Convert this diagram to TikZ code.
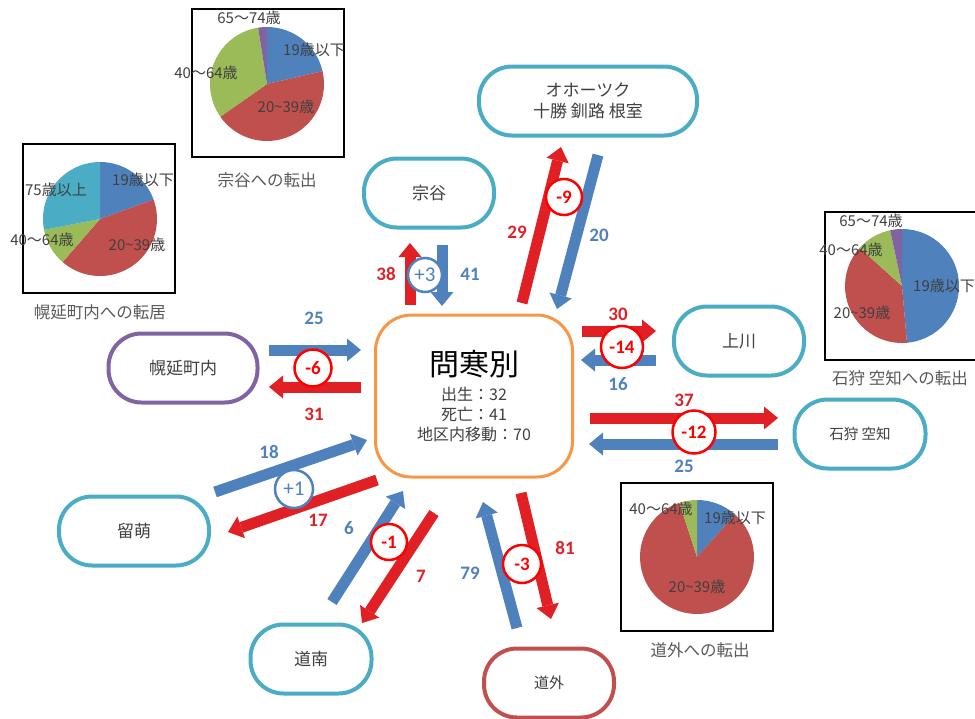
\documentclass[tikz,border=0pt]{standalone}
\usepackage{fontspec}
\setmainfont{Noto Sans CJK JP}
\newfontfamily\numfont{Carlito}
\usetikzlibrary{arrows.meta}
\definecolor{tealc}{HTML}{4BACC6}
\definecolor{orangec}{HTML}{F79646}
\definecolor{purplec}{HTML}{8064A2}
\definecolor{darkredc}{HTML}{C0504D}
\definecolor{arblue}{HTML}{4F81BD}
\definecolor{arred}{HTML}{E02024}
\definecolor{cred}{HTML}{FF0000}
\definecolor{txt}{HTML}{404040}
\definecolor{capt}{HTML}{595959}
\definecolor{pblue}{HTML}{4F81BD}
\definecolor{pred}{HTML}{C0504D}
\definecolor{pgreen}{HTML}{9BBB59}
\definecolor{ppurple}{HTML}{8064A2}
\definecolor{pcyan}{HTML}{4BACC6}
\newcommand{\pieslice}[4]{\fill[#4] (#1) -- ++(#2:57) arc[start angle=#2, end angle=#3, radius=57] -- cycle;}
\newcommand{\tld}{\char"7E\relax}
\begin{document}
\begin{tikzpicture}[x=1pt,y=1pt,
  region/.style={draw=tealc, line width=4pt, rounded corners=33pt, minimum width=130pt, minimum height=69pt, fill=white, text=txt, font=\fontsize{17}{21}\selectfont, align=center, inner sep=0pt},
  redarr/.style={draw=arred, line width=11pt, -{Triangle[width=23pt,length=14pt,line width=0pt]}},
  bluearr/.style={draw=arblue, line width=11pt, -{Triangle[width=23pt,length=14pt,line width=0pt]}},
  rnum/.style={text=arred, font=\numfont\bfseries\fontsize{19}{21}\selectfont, inner sep=0pt},
  bnum/.style={text=arblue, font=\numfont\bfseries\fontsize{19}{21}\selectfont, inner sep=0pt},
  rcirc/.style={circle, draw=cred, line width=2.5pt, fill=white, text=cred, font=\numfont\bfseries\fontsize{19}{21}\selectfont, inner sep=0pt},
  bcirc/.style={circle, draw=arblue, line width=2.5pt, fill=white, text=arblue, font=\numfont\fontsize{21}{23}\selectfont, inner sep=0pt},
  plabel/.style={text=txt, font=\fontsize{15}{17}\selectfont, inner sep=0pt},
  pcaption/.style={text=capt, font=\fontsize{16.5}{19}\selectfont, inner sep=0pt},
  piebox/.style={draw=black, line width=1.5pt}
]
\useasboundingbox (0,0) rectangle (975,-718);

% ---------- pie charts ----------
% Soya
\draw[piebox] (192,-9) rectangle (344,-157);
\coordinate (pA) at (267,-84);
\pieslice{pA}{90}{13}{pblue}
\pieslice{pA}{13}{-145}{pred}
\pieslice{pA}{215}{99}{pgreen}
\pieslice{pA}{99}{90}{ppurple}
\node[plabel] (pA1) at (249,-18) {65～74歳};
\node[plabel] (pA2) at (314,-50) {19歳以下};
\node[plabel] (pA3) at (206,-73) {40～64歳};
\node[plabel] (pA4) at (286,-107) {20\tld 39歳};
\node[pcaption] (pAc) at (267,-180) {宗谷への転出};

% Horonobe
\draw[piebox] (23,-144) rectangle (175,-293);
\coordinate (pB) at (100,-219);
\pieslice{pB}{90}{20}{pblue}
\pieslice{pB}{20}{-131}{pred}
\pieslice{pB}{229}{191}{pgreen}
\pieslice{pB}{191}{90}{pcyan}
\node[plabel] (pB1) at (143,-180) {19歳以下};
\node[plabel] (pB2) at (56,-190) {75歳以上};
\node[plabel] (pB3) at (42,-240) {40～64歳};
\node[plabel] (pB4) at (137,-245) {20\tld 39歳};
\node[pcaption] (pBc) at (100,-312) {幌延町内への転居};

% Ishikari
\draw[piebox] (825,-212) rectangle (990,-360);
\coordinate (pC) at (902,-286);
\pieslice{pC}{90}{-85}{pblue}
\pieslice{pC}{-85}{-222}{pred}
\pieslice{pC}{138}{102}{pgreen}
\pieslice{pC}{102}{90}{ppurple}
\node[plabel] (pC1) at (871,-221) {65～74歳};
\node[plabel] (pC2) at (851,-250) {40～64歳};
\node[plabel] (pC3) at (944,-286) {19歳以下};
\node[plabel] (pC4) at (862,-313) {20\tld 39歳};
\node[pcaption] (pCc) at (900,-378) {石狩 空知への転出};

% Dogai
\draw[piebox] (621,-483) rectangle (773,-631);
\coordinate (pD) at (697,-557);
\pieslice{pD}{90}{48}{pblue}
\pieslice{pD}{48}{-252}{pred}
\pieslice{pD}{108}{90}{pgreen}
\node[plabel] (pD1) at (661,-509) {40～64歳};
\node[plabel] (pD2) at (735,-518) {19歳以下};
\node[plabel] (pD3) at (697,-587) {20\tld 39歳};
\node[pcaption] (pDc) at (700,-650) {道外への転出};

% ---------- nodes ----------
\node[draw=orangec, line width=3pt, rounded corners=36pt, minimum width=197pt, minimum height=162pt, fill=white, text=txt, inner sep=0pt, align=center, font=\fontsize{16}{20}\selectfont] (main) at (474,-396)
  {{\color{black}\fontsize{30}{34}\selectfont 問寒別}\\[5pt]
   出生：32\\
   死亡：41\\
   地区内移動：70};

\node[region] (soya) at (429,-193) {宗谷};
\node[region, minimum width=218pt] (okh) at (588,-101) {オホーツク\\十勝 釧路 根室};
\node[region] (kami) at (739,-341) {上川};
\node[region, minimum width=131pt, font=\fontsize{14.5}{17}\selectfont] (ishi) at (860,-434) {石狩 空知};
\node[region, draw=purplec, minimum width=149pt] (horo) at (183,-368) {幌延町内};
\node[region, minimum width=150pt] (rumo) at (134,-531) {留萌};
\node[region, minimum width=121pt] (donan) at (311,-659) {道南};
\node[region, draw=darkredc, font=\fontsize{15}{18}\selectfont] (dogai) at (549,-683) {道外};

% ---------- arrow end points ----------
\coordinate (s1a) at (410,-305); \coordinate (s1b) at (410,-243);
\coordinate (s2a) at (442,-245); \coordinate (s2b) at (442,-306);
\coordinate (o1a) at (522,-303); \coordinate (o1b) at (561,-147);
\coordinate (o2a) at (598,-155); \coordinate (o2b) at (557,-309);
\coordinate (k1a) at (582,-331); \coordinate (k1b) at (656,-331);
\coordinate (k2a) at (656,-360); \coordinate (k2b) at (581,-360);
\coordinate (i1a) at (590,-418); \coordinate (i1b) at (778,-418);
\coordinate (i2a) at (778,-444); \coordinate (i2b) at (589,-444);
\coordinate (h1a) at (269,-350); \coordinate (h1b) at (361,-350);
\coordinate (h2a) at (361,-387); \coordinate (h2b) at (269,-387);
\coordinate (r1a) at (215,-492); \coordinate (r1b) at (367,-440);
\coordinate (r2a) at (377,-480); \coordinate (r2b) at (228,-532);
\coordinate (d1a) at (332,-602); \coordinate (d1b) at (403,-491);
\coordinate (d2a) at (434,-513); \coordinate (d2b) at (362,-623);
\coordinate (g1a) at (517,-628); \coordinate (g1b) at (483,-502);
\coordinate (g2a) at (521,-493); \coordinate (g2b) at (551,-619);

\draw[redarr]  (s1a) -- (s1b);
\draw[bluearr] (s2a) -- (s2b);
\draw[redarr]  (o1a) -- (o1b);
\draw[bluearr] (o2a) -- (o2b);
\draw[redarr]  (k1a) -- (k1b);
\draw[bluearr] (k2a) -- (k2b);
\draw[redarr]  (i1a) -- (i1b);
\draw[bluearr] (i2a) -- (i2b);
\draw[bluearr] (h1a) -- (h1b);
\draw[redarr]  (h2a) -- (h2b);
\draw[bluearr] (r1a) -- (r1b);
\draw[redarr]  (r2a) -- (r2b);
\draw[bluearr] (d1a) -- (d1b);
\draw[redarr]  (d2a) -- (d2b);
\draw[bluearr] (g1a) -- (g1b);
\draw[redarr]  (g2a) -- (g2b);

% ---------- balance circles ----------
\node[bcirc, minimum size=34pt] (cs) at (425,-275) {+3};
\node[rcirc, minimum size=36pt] (co) at (564,-197) {-9};
\node[rcirc, minimum size=42pt] (ck) at (622,-347) {-14};
\node[rcirc, minimum size=43pt] (ci) at (694,-432) {-12};
\node[rcirc, minimum size=37pt] (ch) at (313,-368) {-6};
\node[bcirc, minimum size=38pt] (cr) at (294,-489) {+1};
\node[rcirc, minimum size=36pt] (cd) at (389,-542) {-1};
\node[rcirc, minimum size=38pt] (cg) at (522,-564) {-3};

% ---------- numbers ----------
\node[rnum] (n38) at (386,-274) {38};
\node[bnum] (n41) at (470,-274) {41};
\node[rnum] (n29) at (517,-232) {29};
\node[bnum] (n20) at (599,-235) {20};
\node[rnum] (n30) at (618,-314) {30};
\node[bnum] (n16) at (618,-384) {16};
\node[rnum] (n37) at (684,-400) {37};
\node[bnum] (n25a) at (684,-466) {25};
\node[bnum] (n25b) at (314,-318) {25};
\node[rnum] (n31) at (314,-414) {31};
\node[bnum] (n18) at (269,-452) {18};
\node[rnum] (n17) at (318,-520) {17};
\node[bnum] (n6) at (349,-528) {6};
\node[rnum] (n7) at (421,-576) {7};
\node[bnum] (n79) at (470,-573) {79};
\node[rnum] (n81) at (565,-548) {81};
\end{tikzpicture}
\end{document}
